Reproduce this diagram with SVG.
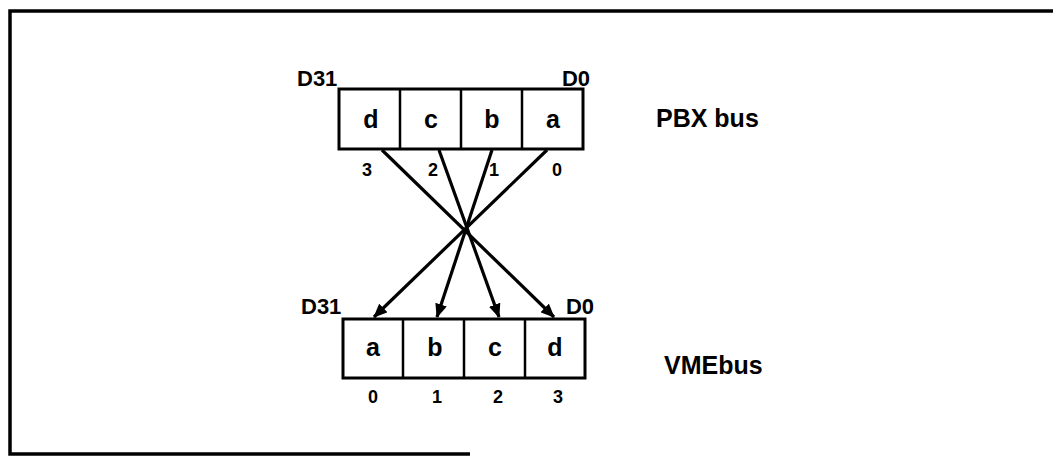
<svg xmlns="http://www.w3.org/2000/svg" width="1053" height="458" viewBox="0 0 1053 458">
  <style>
    .frame { fill: none; stroke: #000; stroke-width: 3.5; }
    .cell { fill: #fff; stroke: #000; stroke-width: 3; }
    .div { stroke: #000; stroke-width: 2.5; }
    .wire { stroke: #000; stroke-width: 3.2; fill: none; }
    .t { font-family: "Liberation Sans", Arial, sans-serif; font-weight: bold; fill: #000; }
    .byte { font-size: 25px; text-anchor: middle; }
    .idx { font-size: 18px; text-anchor: middle; }
    .bit { font-size: 22px; }
    .bus { font-size: 25px; }
  </style>
  <defs>
    <marker id="arrow" markerUnits="userSpaceOnUse" markerWidth="14" markerHeight="12" refX="13" refY="6" orient="auto">
      <path d="M0,0 L14,6 L0,12 Z" fill="#000"/>
    </marker>
  </defs>
  <rect width="1053" height="458" fill="#fff"/>

  <!-- page frame (open on the right) -->
  <path class="frame" d="M1053,11 L10,11 L10,454 L470,454"/>

  <!-- PBX bus register -->
  <g id="pbx">
    <rect class="cell" x="339" y="89" width="244" height="60"/>
    <line class="div" x1="400" y1="89" x2="400" y2="149"/>
    <line class="div" x1="461" y1="89" x2="461" y2="149"/>
    <line class="div" x1="522" y1="89" x2="522" y2="149"/>
    <text class="t byte" x="371" y="128">d</text>
    <text class="t byte" x="431" y="128">c</text>
    <text class="t byte" x="492" y="128">b</text>
    <text class="t byte" x="553" y="128">a</text>
    <text class="t bit" x="297" y="86">D31</text>
    <text class="t bit" x="590" y="86" text-anchor="end">D0</text>
    <text class="t idx" x="367" y="176">3</text>
    <text class="t idx" x="433" y="176">2</text>
    <text class="t idx" x="494" y="176">1</text>
    <text class="t idx" x="557" y="176">0</text>
    <text class="t bus" x="656" y="127">PBX bus</text>
  </g>

  <!-- VMEbus register -->
  <g id="vme">
    <rect class="cell" x="343" y="319" width="242" height="59"/>
    <line class="div" x1="403" y1="319" x2="403" y2="378"/>
    <line class="div" x1="464" y1="319" x2="464" y2="378"/>
    <line class="div" x1="525" y1="319" x2="525" y2="378"/>
    <text class="t byte" x="373" y="356">a</text>
    <text class="t byte" x="435" y="356">b</text>
    <text class="t byte" x="495" y="356">c</text>
    <text class="t byte" x="555" y="356">d</text>
    <text class="t bit" x="301" y="314">D31</text>
    <text class="t bit" x="594" y="314" text-anchor="end">D0</text>
    <text class="t idx" x="373" y="403">0</text>
    <text class="t idx" x="437" y="403">1</text>
    <text class="t idx" x="498" y="403">2</text>
    <text class="t idx" x="558" y="403">3</text>
    <text class="t bus" x="664" y="374">VMEbus</text>
  </g>

  <!-- byte swap wiring -->
  <g id="connectors">
    <line class="wire" x1="382" y1="150" x2="554" y2="317" marker-end="url(#arrow)"/>
    <line class="wire" x1="439" y1="150" x2="499" y2="317" marker-end="url(#arrow)"/>
    <line class="wire" x1="492" y1="150" x2="437" y2="317" marker-end="url(#arrow)"/>
    <line class="wire" x1="547" y1="150" x2="374" y2="317" marker-end="url(#arrow)"/>
  </g>
</svg>
